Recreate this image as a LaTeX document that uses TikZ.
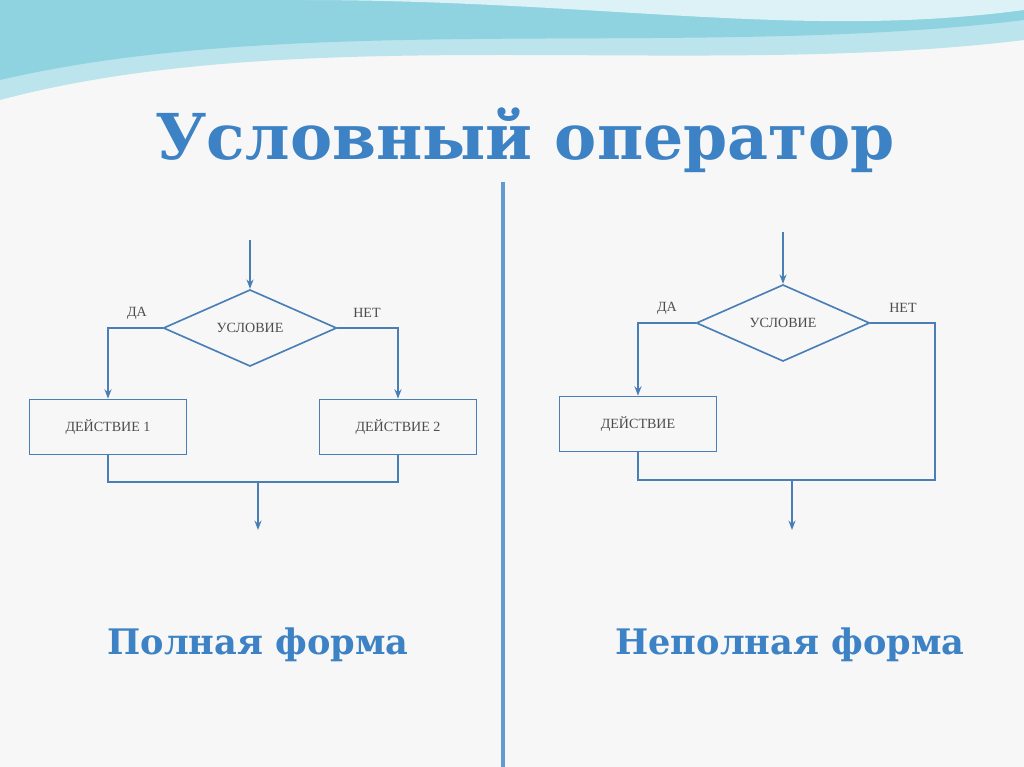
\documentclass[tikz,border=0pt]{standalone}
\usepackage{fontspec}
\setmainfont{Liberation Serif}
\newfontfamily\titlefont{DejaVu Serif}
\usetikzlibrary{positioning,shapes.geometric,arrows.meta}
\definecolor{lineblue}{HTML}{4A7FB5}
\definecolor{titleblue}{HTML}{3C82C4}
\definecolor{wave}{HTML}{8FD3E0}
\tikzset{
  block/.style = {draw=lineblue, line width=1.4pt, minimum width=4.7cm, minimum height=1.65cm,
     font=\fontsize{12}{14}\selectfont, text=black!70},
  cond/.style = {draw=lineblue, line width=1.4pt, diamond, aspect=2.3, minimum width=5.2cm,
     minimum height=2.3cm, inner sep=0pt, font=\fontsize{12}{14}\selectfont, text=black!70},
  flow/.style = {draw=lineblue, line width=1.4pt},
  arr/.style = {flow, -{Stealth[length=8pt]}},
  lbl/.style = {font=\fontsize{12}{14}\selectfont, text=black!70},
  bigtext/.style = {font=\titlefont\bfseries, text=titleblue}
}
\begin{document}
\begin{tikzpicture}[x=0.03cm, y=-0.03cm]
\useasboundingbox (0,0) rectangle (1024,767);
\fill[black!3] (0,0) rectangle (1024,767);
% waves at the top
\fill[wave!60] (0,0) -- (1024,0) -- (1024,40) .. controls (700,80) and (300,20) .. (0,100) -- cycle;
\fill[wave] (0,0) -- (1024,0) -- (1024,20) .. controls (700,60) and (300,10) .. (0,80) -- cycle;
\fill[white!70!wave] (300,0) -- (1024,0) -- (1024,10) .. controls (800,40) and (600,0) .. (300,0) -- cycle;
% title
\node[bigtext, font=\titlefont\bfseries\fontsize{54}{60}\selectfont] (title) at (525,140) {Условный оператор};
% divider
\draw[titleblue!80, line width=3pt] (503,182) -- (503,767);
% full form
\coordinate (inL) at (250,240);
\node[cond] (condL) at (250,328) {УСЛОВИЕ};
\node[block] (act1) at (108,427) {ДЕЙСТВИЕ 1};
\node[block] (act2) at (398,427) {ДЕЙСТВИЕ 2};
\coordinate (joinL) at (258,482);
\coordinate (outL) at (258,530);
\draw[arr] (inL) -- (condL.north);
\draw[arr] (condL.west) -| (act1.north);
\draw[arr] (condL.east) -| (act2.north);
\draw[flow] (act1.south) |- (joinL) -| (act2.south);
\draw[arr] (joinL) -- (outL);
\node[lbl] at (137,313) {ДА};
\node[lbl] at (367,313) {НЕТ};
% short form
\coordinate (inR) at (783,232);
\node[cond] (condR) at (783,323) {УСЛОВИЕ};
\node[block] (act) at (638,424) {ДЕЙСТВИЕ};
\coordinate (sideR) at (935,480);
\coordinate (joinR) at (792,480);
\coordinate (outR) at (792,530);
\draw[arr] (inR) -- (condR.north);
\draw[arr] (condR.west) -| (act.north);
\draw[flow] (condR.east) -| (sideR) -| (act.south);
\draw[arr] (joinR) -- (outR);
\node[lbl] at (667,308) {ДА};
\node[lbl] at (903,308) {НЕТ};
% captions
\node[bigtext, font=\titlefont\bfseries\fontsize{30}{34}\selectfont] (full) at (258,645) {Полная форма};
\node[bigtext, font=\titlefont\bfseries\fontsize{30}{34}\selectfont] (part) at (790,645) {Неполная форма};
\end{tikzpicture}
\end{document}
